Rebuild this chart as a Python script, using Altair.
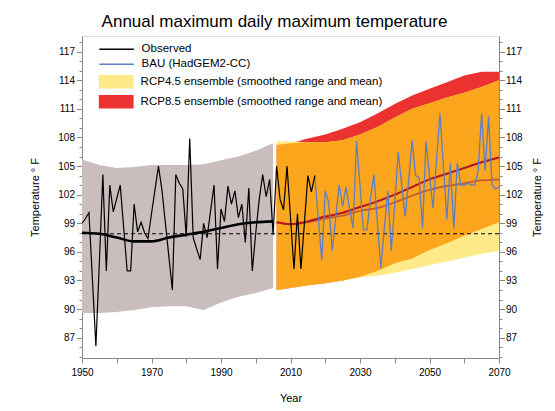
import altair as alt
import pandas as pd

FONT = "Liberation Sans"

# ---------------- data ----------------
obs_years = list(range(1950, 2018))
obs_vals = [
    99.0, 99.5, 100.1, 93.1, 86.1, 95.0, 104.1, 94.0, 103.0, 100.2,     # 1950s
    101.6, 103.0, 98.5, 94.0, 94.0, 101.0, 98.1, 99.1, 98.0, 97.4,      # 1960s
    100.0, 102.5, 105.0, 102.5, 99.0, 95.5, 92.0, 104.1, 103.2, 102.6,  # 1970s
    97.6, 107.9, 97.5, 96.3, 95.2, 99.0, 97.5, 100.3, 103.0, 94.2,      # 1980s
    100.5, 99.2, 102.9, 101.0, 102.4, 99.6, 101.0, 97.0, 102.7, 94.0,   # 1990s
    98.0, 101.5, 104.1, 101.8, 103.6, 97.8,                             # 2000-2005
    105.0, 101.5, 100.4, 105.0, 99.6, 94.2, 100.0, 94.2, 99.0, 104.0,   # 2006-2015
    102.3, 104.0,                                                       # 2016-2017
]

bau_years = list(range(2017, 2071))
bau_vals = [
    104.0, 99.5, 95.1,                                                  # 2017-2019
    102.4, 101.2, 96.1, 99.5, 103.0, 100.8, 102.8, 100.5, 98.5, 107.6,  # 2020s
    103.0, 98.3, 98.3, 101.5, 104.1, 99.0, 94.3, 98.5, 102.4, 96.1,     # 2030s
    101.0, 106.5, 103.0, 99.7, 103.5, 107.7, 104.0, 103.8, 98.5, 107.6, # 2040s
    104.0, 100.6, 105.5, 110.5, 105.0, 99.4, 105.3, 98.4, 105.3, 103.0, # 2050s
    103.0, 103.2, 103.0, 103.0, 104.5, 110.5, 104.5, 110.2, 103.0, 102.6, # 2060s
    102.8,                                                              # 2070
]

hist_years = [1950, 1955, 1960, 1965, 1970, 1975, 1980, 1985, 1990, 1995, 2000, 2005]
hist_lo = [89.6, 89.6, 89.7, 89.9, 90.2, 90.3, 90.3, 89.9, 90.7, 91.3, 91.7, 92.2]
hist_hi = [105.7, 105.1, 104.8, 104.9, 105.1, 105.1, 105.1, 105.2, 105.6, 106.0, 106.6, 107.4]
hist_mean = [98.0, 97.9, 97.5, 97.1, 97.1, 97.5, 97.8, 98.1, 98.5, 98.9, 99.1, 99.2]

ens_years = [2006, 2010, 2015, 2020, 2025, 2030, 2035, 2040, 2045, 2050, 2055, 2060, 2065, 2070]
rcp45_lo = [92.0, 92.2, 92.5, 92.7, 93.0, 93.3, 93.5, 93.8, 94.2, 94.6, 95.0, 95.4, 95.8, 96.1]
rcp45_hi = [107.6, 107.6, 107.5, 107.5, 107.7, 108.3, 109.1, 110.1, 111.0, 111.6, 112.2, 112.7, 113.3, 114.0]
rcp85_lo = [92.0, 92.2, 92.5, 92.7, 93.0, 93.4, 94.0, 94.8, 95.3, 96.2, 96.9, 97.7, 98.4, 99.1]
rcp85_hi = [107.2, 107.4, 107.9, 108.3, 108.9, 109.6, 110.5, 111.5, 112.4, 113.1, 113.8, 114.5, 114.9, 114.9]
rcp45_mean = [99.1, 98.9, 99.1, 99.5, 99.8, 100.3, 100.6, 101.2, 101.9, 102.5, 102.9, 103.2, 103.5, 103.6]
rcp85_mean = [99.1, 98.9, 99.2, 99.7, 100.1, 100.7, 101.3, 102.0, 102.8, 103.6, 104.2, 104.8, 105.4, 105.9]

baseline_temp = 97.9

series_names = ["Observed", "BAU (HadGEM2-CC)"]
ens_names = ["RCP4.5 ensemble (smoothed range and mean)",
             "RCP8.5 ensemble (smoothed range and mean)"]

# ---------------- tables ----------------
obs_df = pd.DataFrame({"year": obs_years, "temp": obs_vals, "series": series_names[0]})
bau_df = pd.DataFrame({"year": bau_years, "temp": bau_vals, "series": series_names[1]})
hist_df = pd.DataFrame({"year": hist_years, "lo": hist_lo, "hi": hist_hi, "mean": hist_mean})
ens_df = pd.DataFrame({
    "year": ens_years, "lo45": rcp45_lo, "hi45": rcp45_hi,
    "lo85": rcp85_lo, "hi85": rcp85_hi, "m45": rcp45_mean, "m85": rcp85_mean,
})
ens_df["lo_ov"] = ens_df[["lo45", "lo85"]].max(axis=1)
ens_df["hi_ov"] = ens_df[["hi45", "hi85"]].min(axis=1)
ens_df["e45"] = ens_names[0]
ens_df["e85"] = ens_names[1]

# ---------------- styling ----------------
GREY = "#C9BDBD"
ORANGE = "#FBA61C"
RED = "#EC3131"
YELLOW = "#FFEA8A"
BLUE = "#5E7EC6"
MEAN85 = "#B4161F"
MEAN45 = "#C4632C"

x_scale = alt.Scale(domain=[1950, 2070], nice=False, zero=False)
y_scale = alt.Scale(domain=[84.87, 118.64], nice=False, zero=False)

x_axis = alt.Axis(values=list(range(1950, 2071, 10)), format="d",
                  labelExpr="datum.value % 20 == 0 ? '' : datum.label",
                  title="Year", tickSize=5, labelPadding=4, titlePadding=15,
                  titleFontWeight="normal", grid=False, labelFlush=False)

tick_vals = list(range(85, 119))
cond_tick = {"condition": {"test": "datum.value % 3 == 0", "value": 5.5}, "value": 3}
y_label_expr = "datum.value % 3 == 0 ? datum.label : ''"

left_axis = alt.Axis(orient="left", values=tick_vals, format="d", labelExpr=y_label_expr,
                     tickSize=cond_tick, labelPadding=2, title="Temperature ° F",
                     titlePadding=17, titleFontWeight="normal", grid=False, labelFlush=False)
right_axis = alt.Axis(orient="right", values=tick_vals, format="d", labelExpr=y_label_expr,
                      tickSize=cond_tick, labelPadding=1, title="Temperature ° F",
                      titleAngle=270, titleBaseline="top", titlePadding=9,
                      titleFontWeight="normal", grid=False, labelFlush=False)


def X():
    return alt.X("year:Q", scale=x_scale, axis=x_axis)


fill_scale = alt.Scale(domain=ens_names, range=[YELLOW, RED])
fill_legend = alt.Legend(orient="none", legendX=16.6, legendY=36, title=None,
                         symbolType="M-1,-0.38H1V0.38H-1Z", symbolSize=1225,
                         symbolStrokeWidth=0, symbolOpacity=1, clipHeight=19.5,
                         rowPadding=0, padding=0, labelOffset=7, labelFont=FONT,
                         labelFontSize=11.5, labelLimit=400, labelColor="black")

stroke_scale = alt.Scale(domain=series_names, range=["black", BLUE])
stroke_legend = alt.Legend(orient="none", legendX=16.6, legendY=6, title=None,
                           symbolType="stroke", symbolSize=1190, symbolStrokeWidth=1.5,
                           clipHeight=14.3, rowPadding=0, padding=0, labelOffset=7,
                           labelFont=FONT, labelFontSize=11.5, labelLimit=400,
                           labelColor="black")

# ---------------- layers ----------------
grey = alt.Chart(hist_df).mark_area(color=GREY, opacity=1).encode(
    x=X(), y=alt.Y("lo:Q", scale=y_scale, axis=left_axis), y2="hi:Q")

red = alt.Chart(ens_df).mark_area(opacity=1).encode(
    x=X(), y=alt.Y("lo85:Q", scale=y_scale, axis=None), y2="hi85:Q",
    fill=alt.Fill("e85:N", scale=fill_scale, legend=fill_legend))

yellow = alt.Chart(ens_df).mark_area(opacity=1).encode(
    x=X(), y=alt.Y("lo45:Q", scale=y_scale, axis=None), y2="hi45:Q",
    fill=alt.Fill("e45:N", scale=fill_scale, legend=fill_legend))

orange = alt.Chart(ens_df).mark_area(color=ORANGE, opacity=1).encode(
    x=X(), y=alt.Y("lo_ov:Q", scale=y_scale, axis=None), y2="hi_ov:Q")

hist_mean_line = alt.Chart(hist_df).mark_line(color="black", strokeWidth=2.6,
                                              interpolate="monotone").encode(
    x=X(), y=alt.Y("mean:Q", scale=y_scale, axis=right_axis))

m45_line = alt.Chart(ens_df).mark_line(color=MEAN45, strokeWidth=2,
                                       interpolate="monotone").encode(
    x=X(), y=alt.Y("m45:Q", scale=y_scale, axis=None))

m85_line = alt.Chart(ens_df).mark_line(color=MEAN85, strokeWidth=2,
                                       interpolate="monotone").encode(
    x=X(), y=alt.Y("m85:Q", scale=y_scale, axis=None))

dash = alt.Chart(pd.DataFrame({"t": [baseline_temp]})).mark_rule(
    color="black", strokeDash=[4, 3], strokeWidth=1.2).encode(
    y=alt.Y("t:Q", scale=y_scale, axis=None))

bau_line = alt.Chart(bau_df).mark_line(strokeWidth=1.3).encode(
    x=X(), y=alt.Y("temp:Q", scale=y_scale, axis=None),
    stroke=alt.Stroke("series:N", scale=stroke_scale, legend=stroke_legend))

obs_line = alt.Chart(obs_df).mark_line(strokeWidth=1.2).encode(
    x=X(), y=alt.Y("temp:Q", scale=y_scale, axis=None),
    stroke=alt.Stroke("series:N", scale=stroke_scale, legend=stroke_legend))

chart = alt.layer(
    grey, red, yellow, orange, hist_mean_line, m45_line, m85_line, dash, bau_line, obs_line
).resolve_axis(y="independent").properties(
    width=417, height=322,
    padding={"left": 82, "top": 36, "right": 56, "bottom": 53},
    autosize=alt.AutoSizeParams(type="none"),
    title=alt.Title("Annual maximum daily maximum temperature", font=FONT, fontSize=17,
                    fontWeight="normal", color="black", anchor="middle", frame="group",
                    offset=10, baseline="alphabetic", dx=-16, dy=18),
).configure_view(stroke="black", strokeWidth=1.2).configure_axis(
    domainColor="black", tickColor="black", labelColor="black", titleColor="black",
    labelFont=FONT, titleFont=FONT, labelFontSize=12.5, titleFontSize=13,
    titleFontWeight="normal", domainWidth=1.2, tickWidth=1,
).configure(background="white")

chart.save("out.html", embed_options={"renderer": "svg", "actions": False})
